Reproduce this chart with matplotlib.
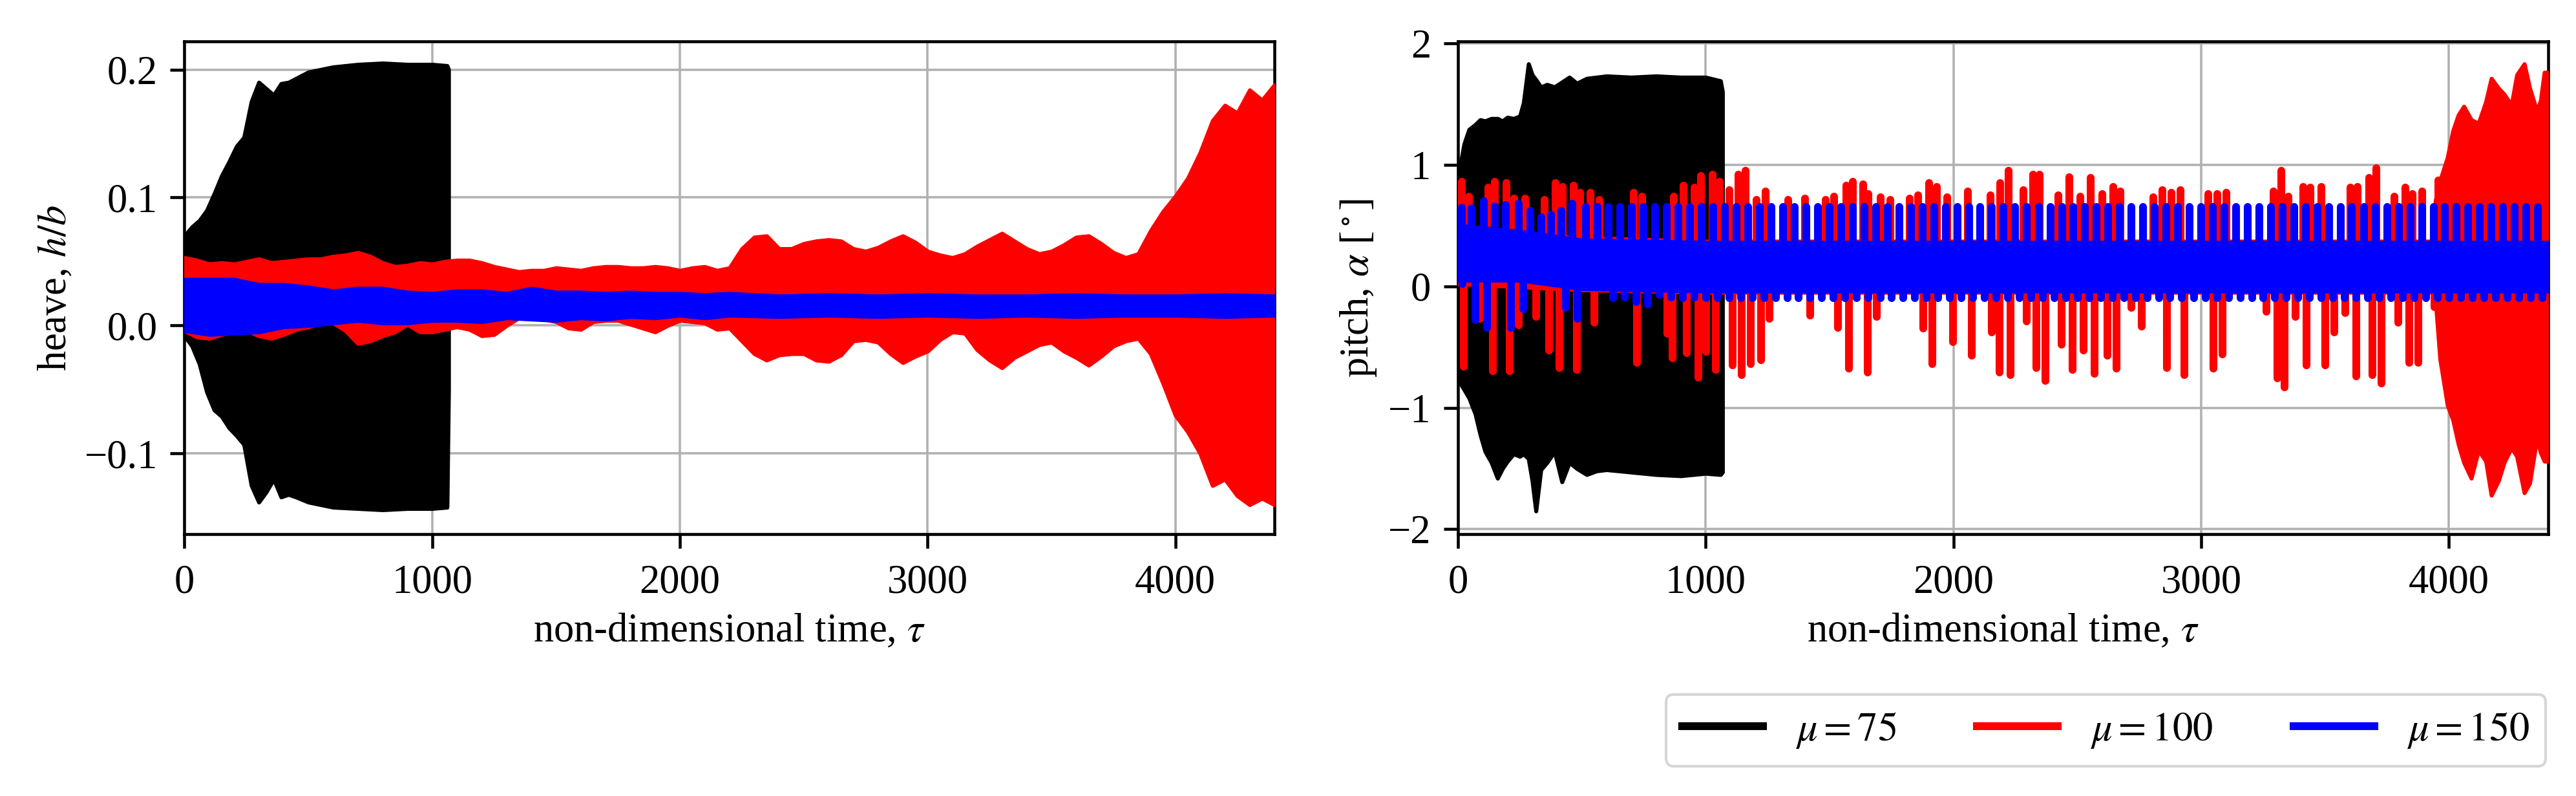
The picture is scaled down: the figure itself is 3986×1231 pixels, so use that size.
import matplotlib
matplotlib.use("Agg")
import matplotlib.pyplot as plt
from matplotlib.lines import Line2D

# ---------------- data ----------------
labels = [r"$\mu = 75$", r"$\mu = 100$", r"$\mu = 150$"]
colors = ["black", "red", "blue"]

# heave envelopes, mu = 75
heave75_t = [0, 30, 60, 90, 120, 150, 180, 210, 240, 270, 300, 330, 360, 390, 420, 450,
             500, 550, 600, 700, 800, 900, 1000, 1060, 1066]
heave75_hi = [0.070, 0.077, 0.082, 0.090, 0.103, 0.117, 0.128, 0.140, 0.147, 0.175, 0.190, 0.185,
              0.180, 0.189, 0.190, 0.193, 0.198, 0.200, 0.202, 0.204, 0.205, 0.204, 0.204, 0.203, 0.200]
heave75_lo = [-0.008, -0.016, -0.030, -0.052, -0.066, -0.071, -0.080, -0.086, -0.093, -0.125, -0.138,
              -0.130, -0.120, -0.134, -0.132, -0.134, -0.138, -0.140, -0.142, -0.143, -0.144, -0.143,
              -0.143, -0.142, -0.050]

# heave envelopes, mu = 100
heave100_t = [0, 50, 100, 150, 200, 250, 300, 350, 400, 450, 500, 550, 600, 650, 700, 750, 800, 850,
              900, 950, 1000, 1050, 1100, 1150, 1200, 1250, 1300, 1350, 1400, 1450, 1500, 1550, 1600,
              1650, 1700, 1750, 1800, 1850, 1900, 1950, 2000, 2050, 2100, 2150, 2200, 2250, 2300, 2350,
              2400, 2450, 2500, 2550, 2600, 2650, 2700, 2750, 2800, 2850, 2900, 2950, 3000, 3050, 3100,
              3150, 3200, 3250, 3300, 3350, 3400, 3450, 3500, 3550, 3600, 3650, 3700, 3750, 3800, 3850,
              3900, 3950, 4000, 4050, 4100, 4150, 4200, 4250, 4300, 4350, 4400]
heave100_hi = [0.053, 0.051, 0.048, 0.049, 0.048, 0.050, 0.052, 0.049, 0.050, 0.051, 0.052, 0.052,
               0.054, 0.055, 0.057, 0.054, 0.049, 0.046, 0.047, 0.049, 0.048, 0.050, 0.051, 0.051,
               0.049, 0.046, 0.044, 0.042, 0.043, 0.043, 0.045, 0.044, 0.043, 0.045, 0.046, 0.046,
               0.045, 0.045, 0.046, 0.045, 0.043, 0.045, 0.046, 0.043, 0.045, 0.060, 0.069, 0.070,
               0.060, 0.060, 0.064, 0.066, 0.067, 0.066, 0.060, 0.058, 0.061, 0.066, 0.070, 0.065,
               0.058, 0.055, 0.053, 0.056, 0.062, 0.067, 0.072, 0.066, 0.060, 0.056, 0.058, 0.063,
               0.069, 0.070, 0.064, 0.057, 0.053, 0.056, 0.074, 0.089, 0.101, 0.115, 0.135, 0.160,
               0.172, 0.166, 0.184, 0.176, 0.188]
heave100_lo = [-0.004, -0.009, -0.010, -0.007, -0.005, -0.004, -0.008, -0.010, -0.007, -0.003, -0.001,
               0.002, 0.002, -0.004, -0.014, -0.012, -0.008, -0.005, 0.001, -0.005, -0.005, -0.003,
               -0.001, -0.003, -0.008, -0.007, 0.000, 0.006, 0.006, 0.005, 0.003, -0.002, -0.003,
               0.003, 0.004, 0.004, 0.001, -0.002, -0.005, 0.000, 0.004, 0.003, 0.002, -0.003, -0.002,
               -0.012, -0.022, -0.027, -0.023, -0.022, -0.022, -0.027, -0.028, -0.023, -0.012, -0.011,
               -0.013, -0.022, -0.029, -0.024, -0.020, -0.011, -0.005, -0.006, -0.019, -0.027, -0.033,
               -0.025, -0.020, -0.015, -0.013, -0.020, -0.025, -0.031, -0.024, -0.016, -0.012, -0.010,
               -0.022, -0.045, -0.070, -0.083, -0.100, -0.125, -0.120, -0.133, -0.140, -0.135, -0.140]

# heave envelopes, mu = 150
heave150_t = [0, 100, 200, 300, 400, 500, 600, 700, 800, 900, 1000, 1100, 1200, 1300, 1400, 1500,
              1600, 1700, 1800, 1900, 2000, 2100, 2200, 2400, 2600, 2800, 3000, 3200, 3400, 3600,
              3800, 4000, 4200, 4400]
heave150_hi = [0.036, 0.036, 0.036, 0.032, 0.032, 0.030, 0.027, 0.029, 0.029, 0.026, 0.025, 0.027,
               0.027, 0.025, 0.029, 0.026, 0.026, 0.025, 0.026, 0.025, 0.025, 0.024, 0.025, 0.023,
               0.024, 0.023, 0.024, 0.023, 0.023, 0.024, 0.023, 0.023, 0.024, 0.023]
heave150_lo = [-0.004, -0.007, -0.006, -0.005, -0.001, 0.000, 0.002, 0.004, 0.002, 0.002, 0.004,
               0.004, 0.003, 0.006, 0.005, 0.004, 0.006, 0.005, 0.007, 0.006, 0.008, 0.006, 0.008,
               0.007, 0.008, 0.007, 0.008, 0.007, 0.008, 0.007, 0.008, 0.008, 0.007, 0.008]

# pitch envelope, mu = 75
pitch75_t = [0, 10, 25, 45, 70, 90, 110, 135, 160, 180, 200, 225, 250, 265, 285, 300, 315, 335, 360,
             390, 420, 450, 480, 520, 560, 600, 700, 800, 900, 1000, 1060, 1068]
pitch75_hi = [0.95, 1.00, 1.17, 1.29, 1.33, 1.37, 1.36, 1.38, 1.38, 1.36, 1.39, 1.38, 1.40, 1.51, 1.83,
              1.74, 1.70, 1.64, 1.66, 1.64, 1.68, 1.72, 1.67, 1.71, 1.72, 1.73, 1.72, 1.73, 1.72, 1.72,
              1.69, 1.60]
pitch75_lo = [-0.75, -0.80, -0.85, -0.92, -1.05, -1.22, -1.36, -1.45, -1.58, -1.50, -1.44, -1.38, -1.40,
              -1.38, -1.42, -1.60, -1.85, -1.51, -1.45, -1.36, -1.61, -1.45, -1.50, -1.55, -1.52, -1.51,
              -1.53, -1.55, -1.56, -1.54, -1.55, -1.53]

# pitch, mu = 100: central band, spikes and the final growing envelope
pitch100_core_t = [0, 500, 1000, 3960]
pitch100_core_lo = [0.02, -0.03, -0.05, -0.05]
pitch100_core_hi = [0.45, 0.40, 0.37, 0.37]
pitch100_up_t = [15, 45, 123, 150, 197, 228, 271, 350, 393, 423, 467, 493, 536, 571, 710, 745, 871,
                 910, 954, 980, 1028, 1058, 1097, 1132, 1162, 1206, 1241, 1332, 1401, 1484, 1519,
                 1567, 1593, 1636, 1658, 1706, 1745, 1823, 1858, 1901, 1932, 1975, 2058, 2149, 2188,
                 2223, 2284, 2323, 2349, 2423, 2467, 2511, 2555, 2600, 2644, 2673, 2806, 2843, 2880,
                 2917, 3028, 3065, 3101, 3293, 3323, 3352, 3411, 3441, 3485, 3603, 3632, 3677, 3706,
                 3780, 3824, 3854, 3891, 3957]
pitch100_up_v = [0.86, 0.74, 0.81, 0.86, 0.85, 0.72, 0.72, 0.71, 0.85, 0.82, 0.83, 0.77, 0.77, 0.71,
                 0.77, 0.74, 0.74, 0.83, 0.81, 0.91, 0.92, 0.86, 0.79, 0.92, 0.95, 0.71, 0.78, 0.71,
                 0.72, 0.71, 0.74, 0.83, 0.86, 0.84, 0.76, 0.73, 0.71, 0.72, 0.75, 0.85, 0.82, 0.73,
                 0.78, 0.75, 0.85, 0.95, 0.79, 0.92, 0.92, 0.75, 0.90, 0.74, 0.89, 0.76, 0.82, 0.78,
                 0.73, 0.79, 0.77, 0.79, 0.76, 0.76, 0.77, 0.78, 0.95, 0.74, 0.82, 0.81, 0.82, 0.81,
                 0.82, 0.89, 0.97, 0.74, 0.81, 0.76, 0.78, 0.87]
pitch100_dn_t = [24, 89, 141, 210, 245, 315, 367, 410, 480, 550, 723, 845, 867, 923, 971, 1002, 1041,
                 1110, 1145, 1182, 1224, 1257, 1422, 1534, 1579, 1654, 1691, 1879, 1916, 1998, 2073,
                 2156, 2186, 2231, 2297, 2334, 2371, 2437, 2482, 2526, 2570, 2622, 2659, 2718, 2759,
                 2862, 2932, 3050, 3087, 3264, 3308, 3337, 3382, 3426, 3500, 3537, 3581, 3625, 3691,
                 3728, 3795, 3839, 3876, 3942]
pitch100_dn_v = [-0.66, -0.27, -0.70, -0.70, -0.32, -0.25, -0.53, -0.67, -0.69, -0.30, -0.63, -0.39,
                 -0.59, -0.55, -0.75, -0.54, -0.69, -0.65, -0.73, -0.64, -0.61, -0.27, -0.24, -0.34,
                 -0.68, -0.71, -0.25, -0.35, -0.64, -0.46, -0.57, -0.38, -0.71, -0.73, -0.29, -0.67,
                 -0.78, -0.48, -0.69, -0.53, -0.72, -0.57, -0.68, -0.18, -0.33, -0.67, -0.73, -0.68,
                 -0.56, -0.21, -0.76, -0.83, -0.25, -0.65, -0.65, -0.38, -0.22, -0.74, -0.73, -0.80,
                 -0.30, -0.63, -0.63, -0.17]
pitch100_end_t = [3945, 3964, 3994, 4016, 4038, 4060, 4090, 4119, 4149, 4171, 4200, 4223, 4252, 4274,
                  4304, 4326, 4355, 4370, 4385, 4400]
pitch100_end_hi = [0.70, 0.87, 1.06, 1.28, 1.41, 1.48, 1.37, 1.34, 1.52, 1.71, 1.63, 1.58, 1.49, 1.74,
                   1.83, 1.63, 1.44, 1.53, 1.76, 1.76]
pitch100_end_lo = [-0.10, -0.60, -0.98, -1.10, -1.30, -1.45, -1.58, -1.35, -1.44, -1.72, -1.60, -1.45,
                   -1.33, -1.40, -1.70, -1.62, -1.25, -1.37, -1.44, -1.44]

# pitch, mu = 150: central band and the comb of teeth
pitch150_core_t = [0, 250, 500, 1000, 4400]
pitch150_core_lo = [0.05, 0.05, -0.02, -0.04, -0.04]
pitch150_core_hi = [0.50, 0.45, 0.38, 0.36, 0.36]
pitch150_top_t = [15, 54, 106, 150, 193, 245, 293, 336, 375, 419, 463, 516, 563, 609, 656, 703, 750,
                  797, 844, 891, 938, 984, 1031, 1078, 1125, 1172, 1219, 1266, 1313, 1359, 1406, 1453,
                  1500, 1547, 1594, 1641, 1688, 1734, 1781, 1828, 1875, 1922, 1969, 2016, 2063, 2109,
                  2156, 2203, 2250, 2297, 2344, 2391, 2438, 2484, 2531, 2578, 2625, 2672, 2719, 2766,
                  2813, 2859, 2906, 2953, 3000, 3047, 3094, 3141, 3188, 3234, 3281, 3328, 3375, 3422,
                  3469, 3516, 3563, 3609, 3656, 3703, 3750, 3797, 3844, 3891, 3938, 3984, 4031, 4078,
                  4125, 4172, 4219, 4266, 4313, 4359]
pitch150_top_early_v = [0.65, 0.64, 0.70, 0.66, 0.67, 0.68, 0.62, 0.57, 0.59, 0.62, 0.68]
pitch150_top_v = 0.655
pitch150_bot_t = [19, 71, 119, 167, 215, 263, 310, 358, 389, 436, 484, 533, 580, 626, 673, 720, 767,
                  814, 861, 908, 955, 1001, 1048, 1095, 1142, 1189, 1236, 1283, 1330, 1376, 1423, 1470,
                  1517, 1564, 1611, 1658, 1705, 1751, 1798, 1845, 1892, 1939, 1986, 2033, 2080, 2126,
                  2173, 2220, 2267, 2314, 2361, 2408, 2455, 2501, 2548, 2595, 2642, 2689, 2736, 2783,
                  2830, 2876, 2923, 2970, 3017, 3064, 3111, 3158, 3205, 3251, 3298, 3345, 3392, 3439,
                  3486, 3533, 3580, 3626, 3673, 3720, 3767, 3814, 3861, 3908, 3955, 4001, 4048, 4095,
                  4142, 4189, 4236, 4283, 4330, 4376]
pitch150_bot_early_v = [0.02, -0.28, -0.34, 0.14, -0.34, -0.19, 0.20, 0.24, 0.15, -0.18, -0.27,
                        0.03, 0.05, -0.10, -0.09, -0.13, -0.15, -0.07, -0.09, -0.10, -0.09, -0.10]
pitch150_bot_v = -0.10

xticks = [0, 1000, 2000, 3000, 4000]
heave_yticks = [-0.1, 0.0, 0.1, 0.2]
pitch_yticks = [-2, -1, 0, 1, 2]

# ---------------- style ----------------
plt.rcParams.update({
    "font.family": ["Liberation Serif", "DejaVu Serif"],
    "mathtext.fontset": "stix",
    "font.size": 15,
    "axes.linewidth": 1.1,
    "xtick.major.size": 5.2, "ytick.major.size": 5.2,
    "xtick.major.width": 1.1, "ytick.major.width": 1.1,
    "xtick.major.pad": 6, "ytick.major.pad": 4.8,
    "grid.color": "#b0b0b0", "grid.linewidth": 0.85,
})
LW = 2.9

fig = plt.figure(figsize=(3987 / 300, 1231 / 300), dpi=300)
ax1 = fig.add_axes([0.0716, 0.329, 0.4230, 0.619])
ax2 = fig.add_axes([0.5658, 0.329, 0.4231, 0.619])


def band(ax, t, lo, hi, color, z):
    ax.fill_between(t, lo, hi, color=color, lw=1.5, zorder=z)


# heave
band(ax1, heave75_t, heave75_lo, heave75_hi, colors[0], 2)
band(ax1, heave100_t, heave100_lo, heave100_hi, colors[1], 3)
band(ax1, heave150_t, heave150_lo, heave150_hi, colors[2], 4)

# pitch
band(ax2, pitch75_t, pitch75_lo, pitch75_hi, colors[0], 2)
band(ax2, pitch100_core_t, pitch100_core_lo, pitch100_core_hi, colors[1], 3)
ax2.vlines(pitch100_up_t, 0.2, pitch100_up_v, color=colors[1], lw=LW, capstyle="round", zorder=3)
ax2.vlines(pitch100_dn_t, 0.1, pitch100_dn_v, color=colors[1], lw=LW, capstyle="round", zorder=3)
band(ax2, pitch100_end_t, pitch100_end_lo, pitch100_end_hi, colors[1], 3)

band(ax2, pitch150_core_t, pitch150_core_lo, pitch150_core_hi, colors[2], 4)
n_top_early = len(pitch150_top_early_v)
top_vals = pitch150_top_early_v + [pitch150_top_v] * (len(pitch150_top_t) - n_top_early)
n_bot_early = len(pitch150_bot_early_v)
bot_vals = pitch150_bot_early_v + [pitch150_bot_v] * (len(pitch150_bot_t) - n_bot_early)
ax2.vlines(pitch150_top_t, 0.25, top_vals, color=colors[2], lw=LW, capstyle="round", zorder=4)
ax2.vlines(pitch150_bot_t, 0.15, bot_vals, color=colors[2], lw=LW, capstyle="round", zorder=4)

for ax in (ax1, ax2):
    ax.set_axisbelow(True)
    ax.grid(True)
    ax.set_xlim(0, 4400)
    ax.set_xticks(xticks)
    ax.set_xlabel(r"non-dimensional time, $\tau$", labelpad=4)

ax1.set_ylim(-0.163, 0.222)
ax1.set_yticks(heave_yticks)
ax1.set_ylabel(r"heave, $h/b$", labelpad=3.5)

ax2.set_ylim(-2.04, 2.015)
ax2.set_yticks(pitch_yticks)
ax2.set_ylabel(r"pitch, $\alpha$ [$^\circ$]", labelpad=3.5)

handles = [Line2D([], [], color=c, lw=LW) for c in colors]
fig.legend(handles, labels, loc="lower right", bbox_to_anchor=(0.988, 0.0374),
           ncol=3, handlelength=2.0, borderaxespad=0)

fig.savefig("out.png", dpi=300)
